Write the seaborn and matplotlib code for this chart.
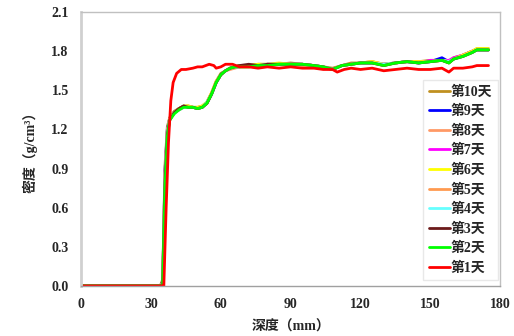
import numpy as np
import pandas as pd
import matplotlib
matplotlib.use('Agg')
import matplotlib.pyplot as plt
import seaborn as sns

# depth grid (mm) shared by day 2 - day 10
depth = [0, 34, 35, 36, 37, 38, 40, 42, 44, 46, 48, 50, 52, 54, 56, 58, 60, 62, 64, 66,
         68, 72, 76, 80, 85, 90, 95, 100, 104, 108, 112, 116, 120, 125, 130, 135, 140, 145,
         150, 155, 158, 160, 164, 168, 170, 175]

day10 = [0, 0, 0.05, 0.92, 1.22, 1.29, 1.34, 1.36, 1.38, 1.38, 1.37, 1.37, 1.38, 1.41, 1.48, 1.57, 1.63, 1.65, 1.67, 1.68,
         1.69, 1.69, 1.70, 1.70, 1.70, 1.71, 1.70, 1.69, 1.68, 1.67, 1.69, 1.71, 1.71, 1.72, 1.70, 1.71, 1.72, 1.72,
         1.73, 1.73, 1.72, 1.75, 1.77, 1.80, 1.82, 1.82]
day9 = [0, 0, 0.03, 0.88, 1.20, 1.28, 1.33, 1.36, 1.38, 1.37, 1.37, 1.36, 1.37, 1.40, 1.47, 1.56, 1.62, 1.65, 1.67, 1.68,
        1.69, 1.69, 1.69, 1.70, 1.70, 1.70, 1.70, 1.69, 1.68, 1.66, 1.69, 1.70, 1.71, 1.71, 1.70, 1.71, 1.72, 1.71,
        1.72, 1.75, 1.72, 1.74, 1.77, 1.80, 1.81, 1.81]
day8 = [0, 0, 0.02, 0.86, 1.19, 1.28, 1.33, 1.36, 1.37, 1.38, 1.37, 1.36, 1.37, 1.41, 1.48, 1.57, 1.62, 1.65, 1.66, 1.67,
        1.68, 1.68, 1.69, 1.69, 1.70, 1.70, 1.69, 1.69, 1.67, 1.66, 1.69, 1.70, 1.71, 1.72, 1.70, 1.71, 1.72, 1.72,
        1.72, 1.73, 1.72, 1.74, 1.77, 1.80, 1.81, 1.81]
day7 = [0, 0, 0.02, 0.85, 1.18, 1.28, 1.33, 1.35, 1.37, 1.37, 1.37, 1.36, 1.37, 1.40, 1.47, 1.56, 1.62, 1.65, 1.67, 1.68,
        1.68, 1.69, 1.69, 1.70, 1.70, 1.70, 1.70, 1.69, 1.68, 1.66, 1.69, 1.70, 1.71, 1.71, 1.70, 1.71, 1.72, 1.71,
        1.73, 1.73, 1.73, 1.75, 1.77, 1.80, 1.81, 1.81]
day6 = [0, 0, 0.02, 0.84, 1.18, 1.28, 1.33, 1.36, 1.38, 1.38, 1.37, 1.37, 1.38, 1.41, 1.48, 1.57, 1.62, 1.65, 1.67, 1.68,
        1.69, 1.69, 1.70, 1.70, 1.71, 1.70, 1.70, 1.69, 1.68, 1.66, 1.69, 1.70, 1.71, 1.72, 1.70, 1.71, 1.72, 1.72,
        1.72, 1.73, 1.72, 1.74, 1.77, 1.80, 1.82, 1.82]
day5 = [0, 0, 0.02, 0.83, 1.17, 1.28, 1.33, 1.35, 1.37, 1.37, 1.37, 1.36, 1.37, 1.40, 1.47, 1.56, 1.62, 1.65, 1.67, 1.68,
        1.68, 1.68, 1.69, 1.69, 1.70, 1.70, 1.70, 1.69, 1.68, 1.66, 1.69, 1.70, 1.71, 1.71, 1.69, 1.71, 1.72, 1.71,
        1.72, 1.73, 1.71, 1.74, 1.76, 1.79, 1.81, 1.81]
day4 = [0, 0, 0.01, 0.82, 1.17, 1.28, 1.33, 1.35, 1.37, 1.37, 1.37, 1.36, 1.37, 1.41, 1.47, 1.56, 1.62, 1.65, 1.67, 1.68,
        1.68, 1.69, 1.69, 1.70, 1.70, 1.70, 1.70, 1.69, 1.68, 1.66, 1.69, 1.70, 1.71, 1.71, 1.70, 1.71, 1.72, 1.71,
        1.72, 1.73, 1.72, 1.74, 1.76, 1.79, 1.81, 1.81]
day3 = [0, 0, 0.01, 0.80, 1.16, 1.27, 1.33, 1.36, 1.38, 1.37, 1.37, 1.36, 1.37, 1.40, 1.47, 1.56, 1.62, 1.65, 1.67, 1.68,
        1.69, 1.70, 1.69, 1.70, 1.70, 1.70, 1.70, 1.69, 1.68, 1.66, 1.69, 1.70, 1.71, 1.71, 1.69, 1.71, 1.72, 1.71,
        1.72, 1.73, 1.71, 1.74, 1.76, 1.79, 1.81, 1.81]
day2 = [0, 0, 0, 0.75, 1.15, 1.27, 1.32, 1.35, 1.37, 1.37, 1.37, 1.36, 1.37, 1.40, 1.47, 1.56, 1.62, 1.65, 1.67, 1.68,
        1.68, 1.68, 1.69, 1.69, 1.70, 1.70, 1.70, 1.69, 1.68, 1.66, 1.69, 1.70, 1.71, 1.71, 1.69, 1.71, 1.72, 1.71,
        1.72, 1.73, 1.71, 1.74, 1.76, 1.79, 1.81, 1.81]

# day 1 has its own depth grid
depth1 = [0, 35, 35.5, 36.5, 37.5, 38.5, 39.5, 41, 43, 45, 48, 50, 52, 55, 57, 58, 60, 62, 65, 68,
          72, 76, 80, 85, 90, 95, 100, 104, 108, 110, 113, 116, 120, 125, 130, 135, 140, 145, 150, 155,
          158, 160, 164, 168, 170, 175]
day1 = [0, 0, 0, 0.6, 1.1, 1.42, 1.56, 1.63, 1.66, 1.66, 1.67, 1.68, 1.68, 1.70, 1.69, 1.67, 1.68, 1.70, 1.70, 1.68,
        1.68, 1.67, 1.68, 1.67, 1.68, 1.67, 1.67, 1.66, 1.66, 1.64, 1.66, 1.67, 1.66, 1.67, 1.65, 1.66, 1.67, 1.66, 1.66, 1.67,
        1.64, 1.67, 1.67, 1.68, 1.69, 1.69]

labels = ['第10天', '第9天', '第8天', '第7天', '第6天', '第5天', '第4天', '第3天', '第2天', '第1天']
colors = ['#C09020', '#0000FF', '#FF9966', '#FF00FF', '#FFFF00', '#FF9A50', '#66FFFF', '#6B1A1A', '#00FF00', '#FF0000']
series = [day10, day9, day8, day7, day6, day5, day4, day3, day2, day1]

frames = []
for lab, vals in zip(labels, series):
    x = depth1 if lab == '第1天' else depth
    frames.append(pd.DataFrame({'depth': x, 'density': vals, 'day': lab}))
df = pd.concat(frames, ignore_index=True)

sns.set_style('white')
plt.rcParams['font.family'] = ['Liberation Serif', 'Noto Sans CJK SC']
plt.rcParams['font.weight'] = 'bold'

fig = plt.figure(figsize=(5.14, 3.36), dpi=100)
ax = fig.add_axes([0.158, 0.149, 0.815, 0.815])

sns.lineplot(data=df, x='depth', y='density', hue='day', hue_order=labels,
             palette=dict(zip(labels, colors)), linewidth=2, ax=ax, sort=False)

ax.set_xlim(0, 180)
ax.set_ylim(0, 2.1)
ax.set_xticks(np.arange(0, 181, 30))
ax.set_yticks(np.arange(0, 2.11, 0.3))
ax.set_yticklabels([f'{v:.1f}' for v in np.arange(0, 2.11, 0.3)])
ax.tick_params(direction='in', length=4, color='#B0B0B0', labelsize=10, pad=9)
for lab in ax.get_xticklabels() + ax.get_yticklabels():
    lab.set_fontweight('bold')

for s in ax.spines.values():
    s.set_color('#C0C0C0')
    s.set_linewidth(1)
ax.spines['left'].set_linewidth(2)
ax.spines['left'].set_color('#D0D0D0')
ax.spines['bottom'].set_color('#A0A0A0')

ax.set_xlabel('深度（mm）', fontsize=10, fontweight='bold', labelpad=6)
ax.set_ylabel('密度（g/cm³）', fontsize=10, fontweight='bold', labelpad=10)

leg = ax.legend(loc='lower right', bbox_to_anchor=(0.995, 0.02), borderaxespad=0,
                fontsize=10, labelspacing=0.45, handlelength=1.5, handletextpad=0.1,
                fancybox=False, edgecolor='#E8E8E8', framealpha=1, borderpad=0.4)
for t in leg.get_texts():
    t.set_fontweight('bold')

fig.savefig('out.png', dpi=100)
